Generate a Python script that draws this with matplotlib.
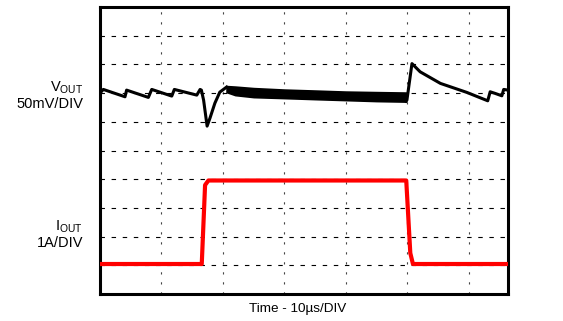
import matplotlib.pyplot as plt
import numpy as np

plt.rcParams['font.family'] = ['Liberation Sans', 'DejaVu Sans']
plt.rcParams['mathtext.fontset'] = 'custom'
plt.rcParams['mathtext.rm'] = 'Liberation Sans'

# time axis in us, 10us per division
time_per_div = 10
t_max = 66.4

# output voltage deviation in mV (50mV/DIV), trace
vout_t = [0.0, 0.54, 4.07, 4.33, 7.87, 8.42, 11.68, 12.10, 15.75, 16.29, 16.5, 16.86,
          17.43, 17.9, 18.7, 19.5, 20.6]
vout_mv = [0.0, 6.4, -6.4, 5.2, -7.5, 6.4, -5.2, 6.4, -3.5, 6.4, 5.2, -12.2,
           -57.5, -43.5, -17.4, 1.7, 10.5]

# noisy band while the load is applied (upper / lower envelope, mV)
band_t = [20.6, 22.0, 25.0, 30.0, 35.0, 40.0, 45.0, 49.8]
band_hi = [12.2, 11.3, 8.7, 6.1, 4.4, 2.6, 1.7, 0.9]
band_lo = [1.7, -3.5, -7.0, -8.7, -10.5, -12.2, -13.9, -14.8]

# recovery after load release
vout2_t = [49.8, 49.95, 50.77, 52.1, 55.4, 59.7, 63.1, 63.5, 64.3, 65.4, 65.7, 66.4]
vout2_mv = [-14.0, -12.2, 51.4, 37.1, 16.9, 1.2, -13.4, 2.3, -0.5, -4.7, 6.4, 5.2]

# output current in A (1A/DIV)
iout_t = [0.0, 16.56, 17.1, 17.64, 49.84, 50.5, 50.93, 66.4]
iout_a = [0.0, 0.0, 2.75, 2.91, 2.91, 0.38, 0.0, 0.0]

# channel positions on screen (divisions from bottom)
vout_offset = 7.0
iout_offset = 1.045
mv_per_div = 50
a_per_div = 1

W, H = 563, 321
fig = plt.figure(figsize=(W / 100, H / 100), dpi=100)
ax = fig.add_axes([100 / W, 1 - 294 / H, 408 / W, 287 / H])

def vdiv(vals):
    return np.array(vals) / mv_per_div + vout_offset

# grid
for x in range(time_per_div, int(t_max) + 1, time_per_div):
    ax.plot([x, x], [0, 10], color='#444444', lw=0.8, dashes=(2, 7), zorder=1)
for y in range(1, 10):
    ax.plot([0, t_max], [y, y], color='black', lw=0.8, dashes=(4, 6), zorder=1)

# vout trace
ax.plot(vout_t, vdiv(vout_mv), color='black', lw=2.2, solid_joinstyle='round', zorder=3)
ax.fill_between(band_t, vdiv(band_lo), vdiv(band_hi), color='black', lw=1.2, zorder=3)
ax.plot(vout2_t, vdiv(vout2_mv), color='black', lw=2.2, solid_joinstyle='round', zorder=3)

# iout trace
ax.plot(iout_t, np.array(iout_a) / a_per_div + iout_offset, color='#ff0000', lw=3.0, zorder=4)

ax.set_xlim(0, t_max)
ax.set_ylim(0, 10)
ax.set_xticks([])
ax.set_yticks([])
for s in ax.spines.values():
    s.set_linewidth(2.2)

# channel labels
fig.text(83 / W, 1 - 91.7 / H, r'V$_{\mathrm{OUT}}$', ha='right', va='baseline', fontsize=10.5)
fig.text(83 / W, 1 - 108 / H, '50mV/DIV', ha='right', va='baseline', fontsize=10.5)
fig.text(83 / W, 1 - 230 / H, r'I$_{\mathrm{OUT}}$', ha='right', va='baseline', fontsize=10.5)
fig.text(83 / W, 1 - 247.3 / H, '1A/DIV', ha='right', va='baseline', fontsize=10.5)
fig.text(297.5 / W, 1 - 312.3 / H, 'Time - 10\u00b5s/DIV', ha='center', va='baseline', fontsize=9.7)

plt.savefig('out.png', dpi=100)
